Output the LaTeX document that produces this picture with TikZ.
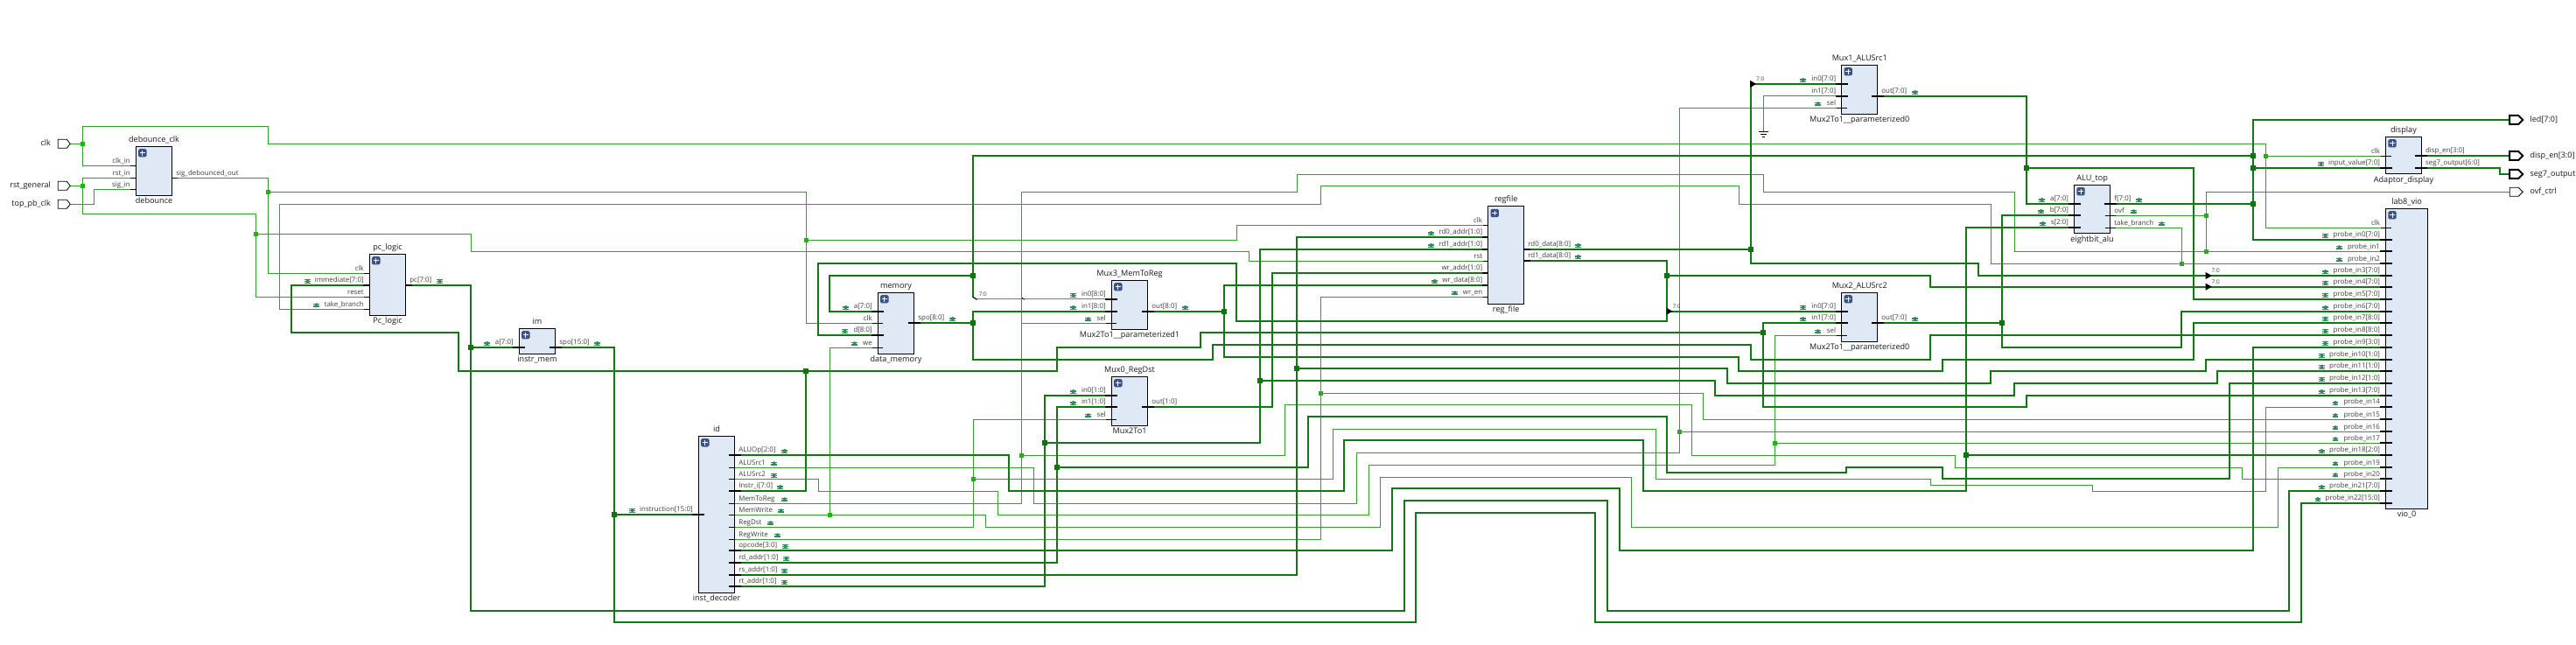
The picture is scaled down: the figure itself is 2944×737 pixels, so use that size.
\documentclass[tikz,border=0pt]{standalone}
\usepackage{fontspec}
\setmainfont{Open Sans}
\usetikzlibrary{backgrounds}
\pgfdeclarelayer{wires}
\pgfsetlayers{wires,main}
\definecolor{thinG}{RGB}{52,160,44}
\definecolor{busG}{RGB}{16,120,16}
\definecolor{midG}{RGB}{60,165,60}
\definecolor{jthinC}{RGB}{34,176,20}
\definecolor{jbusC}{RGB}{8,118,8}
\definecolor{blkFill}{RGB}{223,233,246}
\definecolor{plusC}{RGB}{58,82,136}
\definecolor{bugC}{RGB}{50,140,90}
\definecolor{pinText}{RGB}{62,62,62}
\tikzset{
 x=0.5pt,y=-0.5pt,
 thinnet/.style={draw=thinG,line width=0.5pt},
 busnet/.style={draw=busG,line width=1pt},
 midnet/.style={draw=midG,line width=0.8pt},
 jthin/.style={fill=jthinC,inner sep=0pt,minimum size=2.5pt,shape=rectangle},
 jbus/.style={fill=jbusC,inner sep=0pt,minimum size=3pt,shape=rectangle},
 blockbox/.style={draw=black,fill=blkFill,line width=0.5pt,inner sep=0pt,outer sep=0pt,shape=rectangle},
 insttext/.style={inner sep=0pt,text=black!90,font=\fontsize{4.55}{5}\selectfont,anchor=base},
 pintext/.style={inner sep=0pt,text=pinText,font=\fontsize{3.95}{5}\selectfont},
 porttext/.style={inner sep=0pt,text=black!90,font=\fontsize{4.5}{6}\selectfont},
 ripptext/.style={inner sep=0pt,text=pinText,font=\fontsize{3.2}{4}\selectfont},
 plusicon/.style={fill=plusC,rounded corners=0.8pt,minimum size=4.7pt,inner sep=0pt,shape=rectangle},
}
\newcommand\bug[2]{%
 \fill[bugC] (#1,#2) ellipse[x radius=1.8,y radius=2.6];
 \draw[bugC,line width=0.2pt] (#1-3.3,#2-1.7)--(#1+3.3,#2-1.7) (#1-3.3,#2)--(#1+3.3,#2) (#1-3.3,#2+1.7)--(#1+3.3,#2+1.7);}
\def\sinner{6}\def\souter{6}\def\binner{7}
\newcommand\PinIn[5][]{%
 \coordinate (#2) at (#3,#4);
 \draw[black,line width=0.5pt] (#3-\souter,#4)--(#3+\sinner,#4);
 \node[pintext,anchor=base east] (#2l) at (#3-6.2,#4-3.2) {#5};
 \if\relax\detokenize{#1}\relax\else\bug{#1}{#4-4.5}\fi}
\newcommand\BusIn[5][]{%
 \coordinate (#2) at (#3,#4);
 \draw[black,line width=1pt] (#3-7,#4)--(#3+\binner,#4);
 \node[pintext,anchor=base east] (#2l) at (#3-6.2,#4-3.2) {#5};
 \if\relax\detokenize{#1}\relax\else\bug{#1}{#4-4.5}\fi}
\newcommand\PinOut[5][]{%
 \coordinate (#2) at (#3,#4);
 \draw[black,line width=0.5pt] (#3-\sinner,#4)--(#3+\souter,#4);
 \node[pintext,anchor=base west] (#2l) at (#3+4.3,#4-3.2) {#5};
 \if\relax\detokenize{#1}\relax\else\bug{#1}{#4-4.5}\fi}
\newcommand\BusOut[5][]{%
 \coordinate (#2) at (#3,#4);
 \draw[black,line width=1pt] (#3-\binner,#4)--(#3+7,#4);
 \node[pintext,anchor=base west] (#2l) at (#3+4.3,#4-3.2) {#5};
 \if\relax\detokenize{#1}\relax\else\bug{#1}{#4-4.5}\fi}
\newcommand\blk[7]{%
 \node[blockbox,anchor=north west,minimum width={((#4)-(#2))*0.5pt},minimum height={((#5)-(#3))*0.5pt}] (#1) at (#2,#3) {};
 \node[insttext] (#1top) at ({(#2+#4)/2},#3-5) {#6};
 \node[insttext] (#1bot) at ({(#2+#4)/2},#5+9.5) {#7};
 \node[plusicon] (#1plus) at (#2+7.5,#3+7.5) {};
 \draw[white,line width=0.5pt] (#2+4.7,#3+7.5)--(#2+10.3,#3+7.5) (#2+7.5,#3+4.7)--(#2+7.5,#3+10.3);}
\newcommand\PortL[4]{% name tip y label
 \coordinate (#1) at (#2,#3);
 \draw[black,line width=0.4pt,fill=white] (#2-14,#3-5)--(#2-4,#3-5)--(#2,#3)--(#2-4,#3+5)--(#2-14,#3+5)--cycle;
 \node[porttext,anchor=base east] (#1l) at (#2-22,#3+2.5) {#4};}
\newcommand\PortR[5]{% name left y label width
 \coordinate (#1) at (#2,#3);
 \draw[black,line width=#5,fill=white] (#2,#3-5)--(#2+10,#3-5)--(#2+15,#3)--(#2+10,#3+5)--(#2,#3+5)--cycle;
 \node[porttext,anchor=base west] (#1l) at (#2+23,#3+2.5) {#4};}
\newcommand\ripp[3]{% x y labelname
 \fill[black] (#1-0.5,#2-4)--(#1+6.5,#2)--(#1-0.5,#2+4)--cycle;
 \node[ripptext] (#3) at (#1+11,#2-5.5) {7:0};}
\begin{document}
\catcode`\_=12
\begin{tikzpicture}
\path[use as bounding box] (0,0) rectangle (2944,737);
\begin{pgfonlayer}{wires}
\fill[white] (0,0) rectangle (2944,737);
\end{pgfonlayer}
\clip (0,0) rectangle (2944,737);

% ---------- top-level ports
\PortL{pclk}{80.3}{164.3}{clk}
\PortL{prst}{80.3}{212.3}{rst_general}
\PortL{ptop}{80.3}{233.3}{top_pb_clk}
\PortR{pled}{2868.2}{137}{led[7:0]}{1pt}
\PortR{pdis}{2868.2}{178}{disp_en[3:0]}{1pt}
\PortR{pseg}{2868.2}{199}{seg7_output}{1pt}
\PortR{povf}{2868.2}{219.3}{ovf_ctrl}{0.4pt}

% ---------- debounce
\blk{dbc}{155.3}{167.3}{196.7}{223.3}{debounce_clk}{debounce}
\def\sinner{0}\def\binner{0}
\PinIn{dbc_clk}{155.3}{189.3}{clk_in}
\PinIn{dbc_rst}{155.3}{203.3}{rst_in}
\PinIn{dbc_sig}{155.3}{216.3}{sig_in}
\PinOut{dbc_out}{196.7}{203.3}{sig_debounced_out}
% ---------- pc_logic
\blk{pcl}{422.3}{290.3}{463.7}{360.3}{pc_logic}{Pc_logic}
\PinIn{pc_clk}{422.3}{312.3}{clk}
\BusIn[351.7]{pc_imm}{422.3}{325.7}{immediate[7:0]}
\PinIn{pc_reset}{422.3}{339.3}{reset}
\PinIn[361.7]{pc_tb}{422.3}{353.3}{take_branch}
\BusOut[502.7]{pc_pc}{463.7}{325.7}{pc[7:0]}
% ---------- regfile
\blk{rf}{1700.7}{236}{1741.7}{347.3}{regfile}{reg_file}
\PinIn{rf_clk}{1700.7}{257.3}{clk}
\BusIn[1635.7]{rf_rd0a}{1700.7}{271}{rd0_addr[1:0]}
\BusIn[1635.7]{rf_rd1a}{1700.7}{285}{rd1_addr[1:0]}
\PinIn{rf_rst}{1700.7}{298.3}{rst}
\BusIn{rf_wa}{1700.7}{312}{wr_addr[1:0]}
\BusIn[1639.7]{rf_wd}{1700.7}{326}{wr_data[8:0]}
\PinIn[1662.7]{rf_en}{1700.7}{339.3}{wr_en}
\BusOut[1803.7]{rf_rd0}{1741.7}{285}{rd0_data[8:0]}
\BusOut[1803.7]{rf_rd1}{1741.7}{298}{rd1_data[8:0]}
\def\sinner{6}\def\binner{7}
% ---------- instr mem
\blk{im}{593.3}{375.3}{634.7}{404.3}{im}{instr_mem}
\BusIn[556.7]{im_a}{593.3}{397}{a[7:0]}
\BusOut[682.7]{im_spo}{634.7}{397}{spo[15:0]}
% ---------- decoder
\blk{id}{798.3}{498.3}{839.7}{677.3}{id}{inst_decoder}
\BusIn[722.7]{id_instr}{798.3}{587.7}{instruction[15:0]}
\def\sinner{7}\def\souter{0}
\BusOut[896.7]{id_op}{839.7}{520}{ALUOp[2:0]}
\PinOut[884.7]{id_src1}{839.7}{534.3}{ALUSrc1}
\PinOut[884.7]{id_src2}{839.7}{547.7}{ALUSrc2}
\BusOut[891.7]{id_ii}{839.7}{561}{Instr_i[7:0]}
\PinOut[896.7]{id_m2r}{839.7}{575.3}{MemToReg}
\PinOut[892.7]{id_mw}{839.7}{588.3}{MemWrite}
\PinOut[880.7]{id_rd}{839.7}{602.3}{RegDst}
\PinOut[888.7]{id_rw}{839.7}{616.3}{RegWrite}
\BusOut[897.7]{id_opc}{839.7}{628.7}{opcode[3:0]}
\BusOut[898.7]{id_rda}{839.7}{642.7}{rd_addr[1:0]}
\BusOut[896.7]{id_rsa}{839.7}{656.7}{rs_addr[1:0]}
\BusOut[896.7]{id_rta}{839.7}{669.7}{rt_addr[1:0]}
\def\sinner{6}\def\souter{6}
% ---------- memory
\blk{mem}{1003.3}{334.3}{1044.7}{404.3}{memory}{data_memory}
\BusIn[966.7]{mem_a}{1003.3}{356}{a[7:0]}
\PinIn{mem_clk}{1003.3}{369.3}{clk}
\BusIn[965.7]{mem_d}{1003.3}{382.7}{d[8:0]}
\PinIn[976.7]{mem_we}{1003.3}{397.3}{we}
\BusOut[1088.7]{mem_spo}{1044.7}{369}{spo[8:0]}
% ---------- mux3
\blk{mx3}{1270.3}{320.3}{1311.7}{376.3}{Mux3_MemToReg}{Mux2To1__parameterized1}
\BusIn[1226.7]{mx3_in0}{1270.3}{341.7}{in0[8:0]}
\BusIn[1226.7]{mx3_in1}{1270.3}{356}{in1[8:0]}
\PinIn[1243.7]{mx3_sel}{1270.3}{369.3}{sel}
\BusOut[1354.7]{mx3_out}{1311.7}{356}{out[8:0]}
% ---------- mux0
\blk{mx0}{1270.3}{430.3}{1311.7}{486.3}{Mux0_RegDst}{Mux2To1}
\BusIn[1226.7]{mx0_in0}{1270.3}{452}{in0[1:0]}
\BusIn[1226.7]{mx0_in1}{1270.3}{465}{in1[1:0]}
\PinIn[1243.7]{mx0_sel}{1270.3}{479.3}{sel}
\BusOut{mx0_out}{1311.7}{465}{out[1:0]}
% ---------- mux1
\blk{mx1}{2104.7}{74.3}{2145.7}{130.3}{Mux1_ALUSrc1}{Mux2To1__parameterized0}
\BusIn[2060.7]{mx1_in0}{2104.7}{96}{in0[7:0]}
\BusIn{mx1_in1}{2104.7}{110}{in1[7:0]}
\PinIn[2077.7]{mx1_sel}{2104.7}{123.3}{sel}
\BusOut[2188.7]{mx1_out}{2145.7}{110}{out[7:0]}
% ---------- mux2
\blk{mx2}{2104.7}{334.3}{2145.7}{390.3}{Mux2_ALUSrc2}{Mux2To1__parameterized0}
\BusIn[2060.7]{mx2_in0}{2104.7}{355.7}{in0[7:0]}
\BusIn[2060.7]{mx2_in1}{2104.7}{369}{in1[7:0]}
\PinIn[2077.7]{mx2_sel}{2104.7}{383.3}{sel}
\BusOut[2188.7]{mx2_out}{2145.7}{369}{out[7:0]}
% ---------- ALU
\blk{alu}{2370.5}{211.3}{2411.7}{267}{ALU_top}{eightbit_alu}
\BusIn[2333.7]{alu_a}{2370.5}{233}{a[7:0]}
\BusIn[2332.7]{alu_b}{2370.5}{246}{b[7:0]}
\BusIn[2334.7]{alu_s}{2370.5}{260}{s[2:0]}
\BusOut[2444.7]{alu_f}{2411.7}{233}{f[7:0]}
\PinOut[2438.6]{alu_ovf}{2411.7}{246.3}{ovf}
\PinOut[2470.5]{alu_tb}{2411.7}{260.3}{take_branch}
% ---------- display
\blk{dsp}{2726.5}{156.3}{2767.4}{198.7}{display}{Adaptor_display}
\PinIn{dsp_clk}{2726.5}{178.3}{clk}
\BusIn[2652.7]{dsp_iv}{2726.5}{191.7}{input_value[7:0]}
\BusOut{dsp_en}{2767.4}{178}{disp_en[3:0]}
\BusOut{dsp_seg}{2767.4}{191.7}{seg7_output[6:0]}
% ---------- vio
\blk{vio}{2726.5}{238.3}{2774.6}{581.3}{lab8_vio}{vio_0}
\PinIn{vio_clk}{2726.5}{260.3}{clk}
\BusIn[2657.6]{vio_in0}{2726.5}{273.7}{probe_in0[7:0]}
\BusIn[2673.5]{vio_in1}{2726.5}{287.3}{probe_in1}
\BusIn[2673.5]{vio_in2}{2726.5}{301.3}{probe_in2}
\BusIn[2657.6]{vio_in3}{2726.5}{315}{probe_in3[7:0]}
\BusIn[2657.6]{vio_in4}{2726.5}{327.7}{probe_in4[7:0]}
\BusIn[2657.6]{vio_in5}{2726.5}{341.7}{probe_in5[7:0]}
\BusIn[2657.6]{vio_in6}{2726.5}{356}{probe_in6[7:0]}
\BusIn[2657.6]{vio_in7}{2726.5}{368.7}{probe_in7[8:0]}
\BusIn[2657.6]{vio_in8}{2726.5}{382.7}{probe_in8[8:0]}
\BusIn[2657.6]{vio_in9}{2726.5}{396.7}{probe_in9[3:0]}
\BusIn[2653.4]{vio_in10}{2726.5}{410.7}{probe_in10[1:0]}
\BusIn[2653.4]{vio_in11}{2726.5}{423.7}{probe_in11[1:0]}
\BusIn[2653.4]{vio_in12}{2726.5}{437.7}{probe_in12[1:0]}
\BusIn[2653.4]{vio_in13}{2726.5}{452}{probe_in13[7:0]}
\BusIn[2669]{vio_in14}{2726.5}{465}{probe_in14}
\BusIn[2669]{vio_in15}{2726.5}{479.3}{probe_in15}
\BusIn[2669]{vio_in16}{2726.5}{493.3}{probe_in16}
\BusIn[2669]{vio_in17}{2726.5}{506.3}{probe_in17}
\BusIn[2653.4]{vio_in18}{2726.5}{520}{probe_in18[2:0]}
\BusIn[2669]{vio_in19}{2726.5}{534.3}{probe_in19}
\BusIn[2669]{vio_in20}{2726.5}{547.3}{probe_in20}
\BusIn[2653.4]{vio_in21}{2726.5}{561}{probe_in21[7:0]}
\BusIn[2648.9]{vio_in22}{2726.5}{575}{probe_in22[15:0]}

% ---------- junctions
\foreach \nm/\px/\py in {J1/94.3/164.3,J2/94.3/212.3,J3/292.3/267.3,J4/306.3/219.3,J5/921.3/274.3,
 Jclk/2589.4/178.3,Jovf/2521.2/246.3,Jp1/2521.2/287.3,Jtb/2493.2/301.3,Jm2r/1167.3/520.3,
 Jmw/948.6/588.3,Jrd/1112.4/547.3,Jrw/1509.3/449.3,Js1/1919.3/493.3,Js2/2028.3/506.3}
 {\node[jthin] (\nm) at (\px,\py) {};}
\foreach \nm/\px/\py in {Jpc/538/397,Jspo/702/587.7,Jii/921.2/424,Jma/1112/314.7,Jf0/2575/178,
 Jf1/2575/191.7,Jf2/2575/233,Jms/1112/369,Jm3/1399/356,Jd/1905/315,Jr0/2000.7/285,Jimm/2015/380,
 Jm2/2288/369,Jm1/2316/192,Jop/2247/520,Jrda/1208/534,Jrsa/1482/421,Jrta/1194/506,Jrt2/1440/435}
 {\node[jbus] (\nm) at (\px,\py) {};}

% ---------- ground and rippers
\coordinate (gnd) at (2015.7,151);
\draw[black,line width=0.5pt] (2010,151)--(2021.4,151) (2012,154)--(2019.4,154) (2014,157)--(2017.4,157);
\ripp{2000.7}{96}{r1}
\ripp{1905}{355.7}{r2}
\ripp{2521.2}{315}{r3}
\ripp{2521.2}{327.7}{r4}
\node[ripptext] (r5) at (1123.3,336.5) {7:0};
\draw[black,line width=0.6pt] (1112,339.5)--(1116.7,342.3);
\draw[black,line width=0.4pt] (1168.3,340.3)--(1170.7,342.3);

\begin{pgfonlayer}{wires}
% ---------- thin nets
\draw[thinnet] (pclk)--(J1.center)--(94.3,144.3)--(306.3,144.3)--(306.3,164.3)--(2589.4,164.3)--(2589.4,260.3)--(vio_clk);
\draw[thinnet] (J1.center)--(94.3,189.3)--(dbc_clk);
\draw[thinnet] (Jclk.center)--(dsp_clk);
\draw[thinnet] (prst)--(J2.center)--(94.3,203.3)--(dbc_rst);
\draw[thinnet] (J2.center)--(94.3,244.3)--(292.3,244.3)--(292.3,339.3)--(pc_reset);
\draw[thinnet] (J3.center)--(538.3,267.3)--(538.3,287.3)--(1427.7,287.3)--(1427.7,298.3)--(rf_rst);
\draw[thinnet] (ptop)--(107.3,233.3)--(107.3,216.3)--(dbc_sig);
\draw[thinnet] (dbc_out)--(306.3,203.3)--(306.3,312.3)--(pc_clk);
\draw[thinnet] (J4.center)--(921.3,219.3)--(921.3,369.3)--(mem_clk);
\draw[thinnet] (J5.center)--(1413.3,274.3)--(1413.3,257.3)--(rf_clk);
\draw[thinnet] (alu_tb)--(2493.2,260.3)--(Jtb.center)--(vio_in2);
\draw[thinnet] (Jtb.center)--(2275.7,301.3)--(2275.7,233.3)--(1987.7,233.3)--(1987.7,212.5)--(1509.3,212.5)--(1509.3,233.3)--(319.3,233.3)--(319.3,353.3)--(pc_tb);
\draw[thinnet] (alu_ovf)--(Jovf.center);
\draw[thinnet] (Jp1.center)--(2521.2,219.3)--(povf);
\draw[thinnet] (id_m2r)--(1167.3,575.3)--(1167.3,219.3)--(1482.6,219.3)--(1482.6,199.5)--(2015.7,199.5)--(2015.7,219.3)--(2302.7,219.3)--(2302.7,287.3)--(Jp1.center)--(vio_in1);
\draw[thinnet] (1167.3,369.3)--(mx3_sel);
\draw[thinnet] (Jm2r.center)--(1468.5,520.3)--(1468.5,462.5)--(1933.3,462.5)--(1933.3,520.3)--(2234.7,520.3)--(2234.7,534.3)--(2562.5,534.3)--(2562.5,547.3)--(vio_in20);
\draw[thinnet] (id_src1)--(1181.3,534.3)--(1181.3,575.3)--(1550.3,575.3)--(1550.3,517.5)--(1919.3,517.5)--(1919.3,123.3)--(mx1_sel);
\draw[thinnet] (Js1.center)--(vio_in16);
\draw[thinnet] (id_src2)--(935.2,547.7)--(935.2,561.3)--(1140.4,561.3)--(1140.4,588.3)--(1564.3,588.3)--(1564.3,531.3)--(2028.3,531.3)--(2028.3,383.3)--(mx2_sel);
\draw[thinnet] (Js2.center)--(vio_in17);
\draw[thinnet] (id_mw)--(Jmw.center)--(1126.7,588.3)--(1126.7,602.3)--(1577.3,602.3)--(1577.3,545.5)--(1864.5,545.5)--(1864.5,602.3)--(2603,602.3)--(2603,534.3)--(vio_in19);
\draw[thinnet] (Jmw.center)--(948.6,397.3)--(mem_we);
\draw[thinnet] (id_rd)--(1112.4,602.3)--(1112.4,479.3)--(mx0_sel);
\draw[thinnet] (Jrd.center)--(1523.3,547.3)--(1523.3,490.3)--(1892.7,490.3)--(1892.7,547.3)--(2206.3,547.3)--(2206.3,554.3)--(2391.7,554.3)--(2391.7,561.3)--(2589.4,561.3)--(2589.4,465)--(vio_in14);
\draw[thinnet] (id_rw)--(1509.3,616.3)--(1509.3,339.3)--(rf_en);
\draw[thinnet] (Jrw.center)--(1946.7,449.3)--(1946.7,479.3)--(vio_in15);
\draw[thinnet] (mx1_in1)--(2015.7,110)--(gnd);
% ---------- bus nets
\draw[busnet] (pc_pc)--(538,325.7)--(Jpc.center)--(im_a);
\draw[busnet] (Jpc.center)--(538,697.7)--(1605,697.7)--(1605,572)--(1836.9,572)--(1836.9,697.7)--(2616,697.7)--(2616,561)--(vio_in21);
\draw[busnet] (im_spo)--(702,397)--(Jspo.center)--(id_instr);
\draw[busnet] (Jspo.center)--(702,711)--(1618,711)--(1618,586)--(1822.8,586)--(1822.8,711)--(2629.5,711)--(2629.5,575)--(vio_in22);
\draw[busnet] (pc_imm)--(332.7,325.7)--(332.7,380)--(524,380)--(524,424)--(Jii.center)--(1208.3,424)--(1208.3,397)--(1372,397)--(1372,380)--(Jimm.center)--(2015,369)--(mx2_in1);
\draw[busnet] (Jimm.center)--(2015,465)--(2316,465)--(2316,452)--(vio_in13);
\draw[busnet] (Jii.center)--(921.2,561)--(id_ii);
\draw[busnet] (mem_a)--(948,356)--(948,314.7)--(Jma.center);
\draw[busnet] (1112,340)--(1112,178)--(Jf0.center);
\draw[busnet] (pled)--(2575,137)--(2575,273.7)--(vio_in0);
\draw[busnet] (Jf1.center)--(dsp_iv);
\draw[busnet] (Jf2.center)--(alu_f);
\draw[busnet] (dsp_en)--(pdis);
\draw[busnet] (dsp_seg)--(2856.5,191.7)--(2856.5,199)--(pseg);
\draw[busnet] (mem_spo)--(Jms.center);
\draw[busnet] (mx3_in1)--(1112,356)--(1112,410.7)--(1386,410.7)--(1386,394)--(2001,394)--(2001,410.7)--(2206,410.7)--(2206,382.7)--(vio_in8);
\draw[midnet] (1116.7,341.7)--(mx3_in0);
\draw[busnet] (mx3_out)--(Jm3.center);
\draw[busnet] (rf_wd)--(1399,326)--(1399,408)--(1987,408)--(1987,424)--(2220.3,424)--(2220.3,410.7)--(2506.8,410.7)--(2506.8,368.7)--(vio_in7);
\draw[busnet] (mem_d)--(935,382.7)--(935,300.7)--(1413.3,300.7)--(1413.3,366.7)--(1905,366.7)--(1905,298)--(rf_rd1);
\draw[busnet] (Jd.center)--(2206,315)--(2206,327.7)--(vio_in4);
\draw[busnet] (1905,355.7)--(mx2_in0);
\draw[busnet] (rf_rd0)--(Jr0.center);
\draw[busnet] (2000.7,96)--(2000.7,301)--(2261,301)--(2261,315)--(vio_in3);
\draw[busnet] (2000.7,96)--(mx1_in0);
\draw[busnet] (mx2_out)--(Jm2.center);
\draw[busnet] (alu_b)--(2288,246)--(2288,397)--(2493.2,397)--(2493.2,356)--(vio_in6);
\draw[busnet] (mx1_out)--(2316,110)--(2316,233)--(alu_a);
\draw[busnet] (Jm1.center)--(2506.8,192)--(2506.8,341.7)--(vio_in5);
\draw[busnet] (id_op)--(1153,520)--(1153,560.7)--(1535.8,560.7)--(1535.8,502.8)--(1878,502.8)--(1878,560.7)--(2247,560.7)--(2247,260)--(alu_s);
\draw[busnet] (Jop.center)--(vio_in18);
\draw[busnet] (id_opc)--(1591.3,628.7)--(1591.3,558)--(1851,558)--(1851,628.7)--(2575,628.7)--(2575,396.7)--(vio_in9);
\draw[busnet] (id_rda)--(1208,642.7)--(1208,465)--(mx0_in1);
\draw[busnet] (Jrda.center)--(1495,534)--(1495,476)--(1905,476)--(1905,540)--(2110,540)--(2110,534)--(2220.3,534)--(2220.3,547)--(2547.7,547)--(2547.7,437.7)--(vio_in12);
\draw[busnet] (id_rsa)--(1482,656.7)--(1482,271)--(rf_rd0a);
\draw[busnet] (Jrsa.center)--(1974,421)--(1974,438)--(2275,438)--(2275,424)--(2521.2,424)--(2521.2,410.7)--(vio_in10);
\draw[busnet] (id_rta)--(1194,669.7)--(1194,452)--(mx0_in0);
\draw[busnet] (Jrta.center)--(1440,506)--(1440,285)--(rf_rd1a);
\draw[busnet] (Jrt2.center)--(1960,435)--(1960,452)--(2302.3,452)--(2302.3,438)--(2533.7,438)--(2533.7,423.7)--(vio_in11);
\draw[busnet] (mx0_out)--(1454,465)--(1454,312)--(rf_wa);
\end{pgfonlayer}
\end{tikzpicture}
\end{document}
